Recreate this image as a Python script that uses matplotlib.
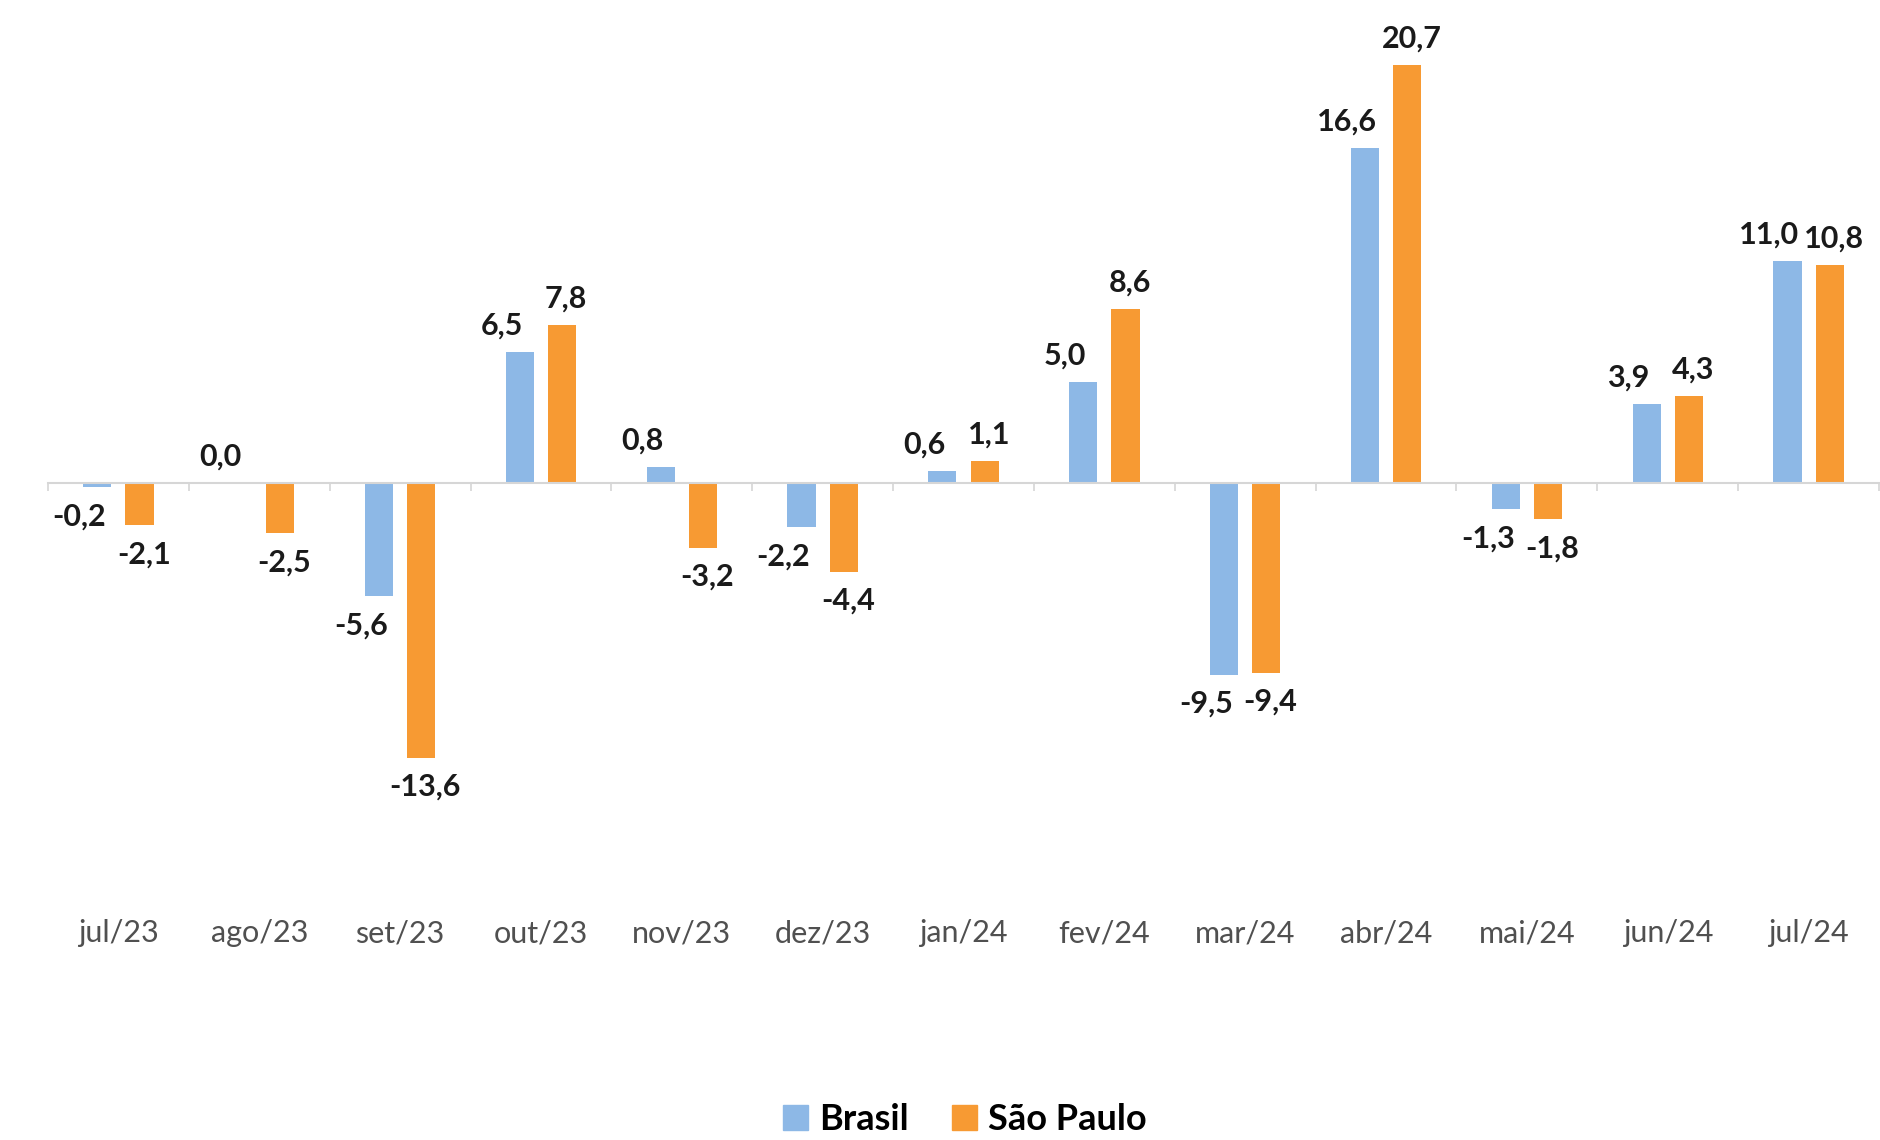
import numpy as np
import matplotlib.pyplot as plt
from matplotlib.patches import Patch
import matplotlib.transforms as mtransforms

plt.rcParams['font.family'] = ['Lato', 'DejaVu Sans']

# data
meses = ['jul/23', 'ago/23', 'set/23', 'out/23', 'nov/23', 'dez/23', 'jan/24',
         'fev/24', 'mar/24', 'abr/24', 'mai/24', 'jun/24', 'jul/24']
brasil = [-0.2, 0.0, -5.6, 6.5, 0.8, -2.2, 0.6, 5.0, -9.5, 16.6, -1.3, 3.9, 11.0]
sao_paulo = [-2.1, -2.5, -13.6, 7.8, -3.2, -4.4, 1.1, 8.6, -9.4, 20.7, -1.8, 4.3, 10.8]

cor_br = '#8DB8E6'
cor_sp = '#F79A33'

fig = plt.figure(figsize=(18.8, 11.4), dpi=100)
ax = fig.add_axes([0.0255, 0.222, 0.974, 0.753])

x = np.arange(len(meses))
w = 0.20
off = 0.15
ax.bar(x - off, brasil, w, color=cor_br)
ax.bar(x + off, sao_paulo, w, color=cor_sp)

ax.set_xlim(-0.5, len(meses) - 0.5)
ax.set_ylim(-20, 22.5)

# eixo no zero
for s in ['top', 'right', 'left']:
    ax.spines[s].set_visible(False)
ax.spines['bottom'].set_position(('data', 0))
ax.spines['bottom'].set_color('#D6D6D6')
ax.spines['bottom'].set_linewidth(1.5)
ax.set_yticks([])
ax.set_xticks(x)
ax.tick_params(axis='x', which='major', length=0, labelbottom=False)
ax.set_xticks(np.arange(-0.5, len(meses), 1), minor=True)
ax.tick_params(axis='x', which='minor', length=6, width=1.2, color='#D6D6D6', direction='out')

# rótulos das categorias (posição "baixa" do Excel)
trans = mtransforms.blended_transform_factory(ax.transData, ax.transAxes)
for i, m in enumerate(meses):
    ax.text(i, -0.054, m, transform=trans, ha='center', va='center',
            fontsize=22, color='#505050')

# rótulos de dados
def fmt(v):
    return f'{v:.1f}'.replace('.', ',')

for serie, dx, dxl in [(brasil, -off, -13), (sao_paulo, off, 3)]:
    for i, v in enumerate(serie):
        dy = 19 if v >= 0 else -21
        ax.annotate(fmt(v), (i + dx, v), xytext=(dxl, dy), textcoords='offset points',
                    ha='center', va='center', fontsize=22, fontweight='bold',
                    color='#1a1a1a')

handles = [Patch(color=cor_br, label='Brasil'), Patch(color=cor_sp, label='São Paulo')]
fig.legend(handles=handles, loc='center', bbox_to_anchor=(0.513, 0.018), ncol=2,
           frameon=False, prop={'size': 26, 'weight': 'bold'},
           handlelength=0.7, handleheight=0.7, handletextpad=0.3, columnspacing=1.2,
           borderpad=0.1)

fig.savefig('out.png', dpi=100)
